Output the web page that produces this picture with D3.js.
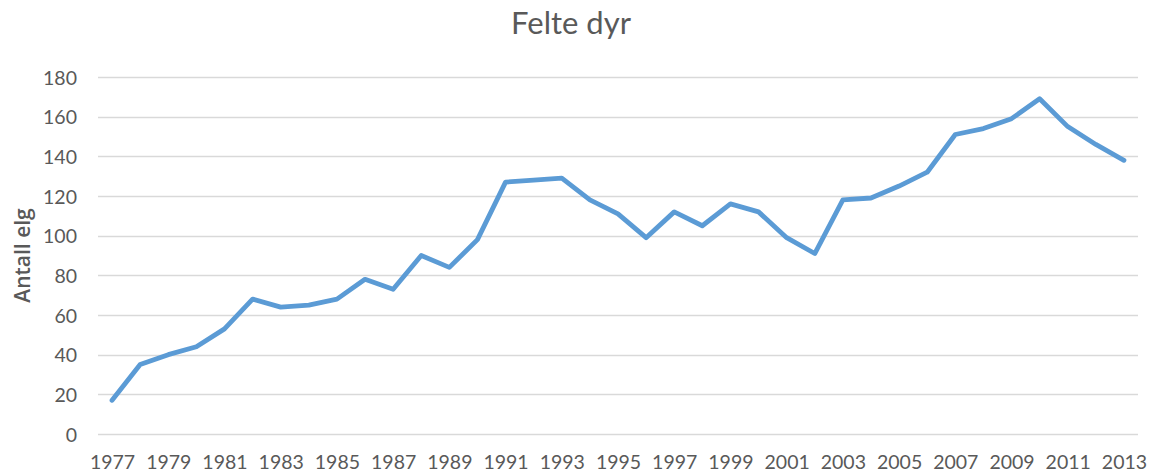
<!DOCTYPE html>
<html>
<head>
<meta charset="utf-8">
<script src="https://cdn.jsdelivr.net/npm/d3@7"></script>
<style>
  body { margin: 0; background: #fff; }
  text { font-family: Lato, "Open Sans", sans-serif; fill: #595959; }
</style>
</head>
<body>
<svg id="chart" width="1151" height="473"></svg>
<script>
var width = 1151,
  height = 473;

// data
const years = d3.range(1977, 2014);
const felte = [17, 35, 40, 44, 53, 68, 64, 65, 68, 78, 73, 90, 84, 98, 127, 128, 129, 118, 111, 99,
  112, 105, 116, 112, 99, 91, 118, 119, 125, 132, 151, 154, 159, 169, 155, 146, 138];
const yTicks = [0, 20, 40, 60, 80, 100, 120, 140, 160, 180];
const xTickLabels = years.filter((y) => (y - 1977) % 2 === 0);

const margin = { top: 77, right: 13, bottom: 39, left: 98 };

const svg = d3.select("#chart");

const x = d3
  .scalePoint()
  .domain(years)
  .range([margin.left, width - margin.right])
  .padding(0.5);

const y = d3
  .scaleLinear()
  .domain([0, 180])
  .range([height - margin.bottom, margin.top]);

// title
svg
  .append("text")
  .attr("x", 571)
  .attr("y", 34)
  .attr("text-anchor", "middle")
  .style("font-size", "31px")
  .text("Felte dyr");

// gridlines
svg
  .append("g")
  .selectAll("line")
  .data(yTicks)
  .join("line")
  .attr("x1", margin.left)
  .attr("x2", width - margin.right)
  .attr("y1", (d) => Math.round(y(d)) + 0.5)
  .attr("y2", (d) => Math.round(y(d)) + 0.5)
  .attr("stroke", "#d9d9d9")
  .attr("stroke-width", 1.4);

// y axis labels
const yAxis = d3.axisLeft(y).tickValues(yTicks).tickSize(0).tickPadding(0);
svg
  .append("g")
  .attr("transform", `translate(${margin.left - 21},0)`)
  .call(yAxis)
  .call((g) => g.select(".domain").remove())
  .selectAll("text")
  .style("font-size", "19.5px")
  .attr("dy", "0.36em");

// x axis labels
const xAxis = d3.axisBottom(x).tickValues(xTickLabels).tickSize(0).tickPadding(0);
svg
  .append("g")
  .attr("transform", `translate(0,${height - margin.bottom + 21})`)
  .call(xAxis)
  .call((g) => g.select(".domain").remove())
  .selectAll("text")
  .style("font-size", "19.5px")
  .attr("dy", "0.71em");

// y axis title
svg
  .append("text")
  .attr("transform", `translate(30,${(y(0) + y(180)) / 2}) rotate(-90)`)
  .attr("text-anchor", "middle")
  .style("font-family", "'Open Sans', sans-serif")
  .style("font-size", "21px")
  .style("font-weight", "600")
  .text("Antall elg");

// line
const line = d3
  .line()
  .x((d, i) => x(years[i]))
  .y((d) => y(d));

svg
  .append("path")
  .datum(felte)
  .attr("d", line)
  .attr("fill", "none")
  .attr("stroke", "#5b9bd5")
  .attr("stroke-width", 4.8)
  .attr("stroke-linejoin", "round")
  .attr("stroke-linecap", "round");
</script>
</body>
</html>
